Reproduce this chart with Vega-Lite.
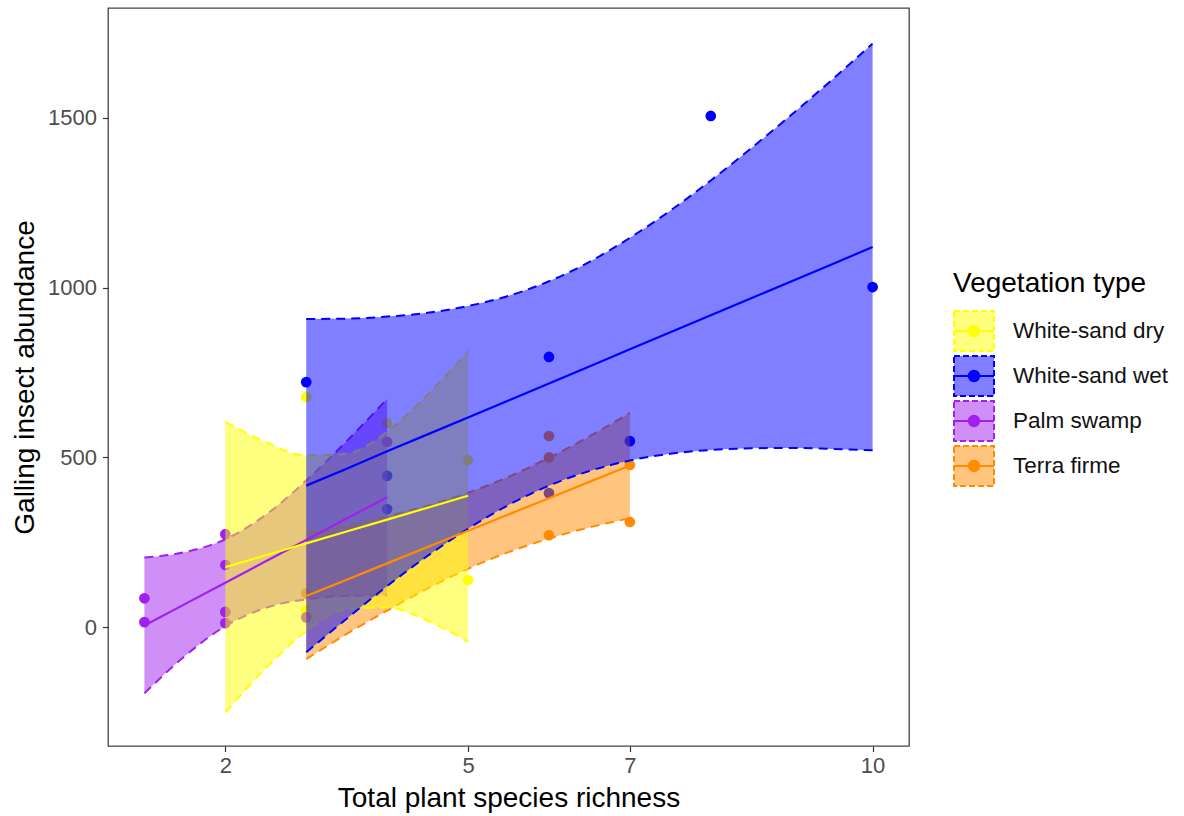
{
  "$schema": "https://vega.github.io/schema/vega-lite/v6.json",
  "width": 801,
  "height": 738,
  "autosize": {"type": "none"},
  "padding": {"left": 108, "top": 8, "right": 275, "bottom": 70},
  "background": "white",
  "config": {
    "font": "Liberation Sans",
    "view": {"stroke": "#444444", "strokeWidth": 1.3},
    "axis": {
      "grid": false,
      "domain": false,
      "tickColor": "#333333",
      "tickSize": 5.5,
      "tickWidth": 1.2,
      "labelColor": "#4D4D4D",
      "labelFontSize": 22,
      "labelFont": "Liberation Sans",
      "titleFont": "Liberation Sans",
      "titleFontSize": 28,
      "titleFontWeight": "normal",
      "titleColor": "#000000"
    }
  },
  "datasets": {
    "pts": [
      {"type": "White-sand dry", "x": 3, "y": 678},
      {"type": "White-sand dry", "x": 3, "y": 50},
      {"type": "White-sand dry", "x": 4, "y": 601},
      {"type": "White-sand dry", "x": 5, "y": 492},
      {"type": "White-sand dry", "x": 5, "y": 139},
      {"type": "White-sand wet", "x": 3, "y": 722},
      {"type": "White-sand wet", "x": 4, "y": 446},
      {"type": "White-sand wet", "x": 4, "y": 348},
      {"type": "White-sand wet", "x": 6, "y": 796},
      {"type": "White-sand wet", "x": 6, "y": 395},
      {"type": "White-sand wet", "x": 7, "y": 548},
      {"type": "White-sand wet", "x": 8, "y": 1506},
      {"type": "White-sand wet", "x": 10, "y": 1002},
      {"type": "Palm swamp", "x": 1, "y": 85},
      {"type": "Palm swamp", "x": 1, "y": 15},
      {"type": "Palm swamp", "x": 2, "y": 274},
      {"type": "Palm swamp", "x": 2, "y": 183},
      {"type": "Palm swamp", "x": 2, "y": 45},
      {"type": "Palm swamp", "x": 2, "y": 12},
      {"type": "Palm swamp", "x": 3, "y": 29},
      {"type": "Palm swamp", "x": 4, "y": 546},
      {"type": "Terra firme", "x": 3, "y": 100},
      {"type": "Terra firme", "x": 6, "y": 271},
      {"type": "Terra firme", "x": 6, "y": 500},
      {"type": "Terra firme", "x": 6, "y": 563},
      {"type": "Terra firme", "x": 7, "y": 478},
      {"type": "Terra firme", "x": 7, "y": 310}
    ],
    "band": [
      {"type": "Palm swamp", "x": 1, "lo": -195, "fit": 5, "hi": 205},
      {"type": "Palm swamp", "x": 1.5, "lo": -85, "fit": 68, "hi": 221},
      {"type": "Palm swamp", "x": 2, "lo": 3, "fit": 131, "hi": 259},
      {"type": "Palm swamp", "x": 2.5, "lo": 57, "fit": 194, "hi": 331},
      {"type": "Palm swamp", "x": 3, "lo": 82, "fit": 257, "hi": 432},
      {"type": "Palm swamp", "x": 3.5, "lo": 92, "fit": 320, "hi": 548},
      {"type": "Palm swamp", "x": 4, "lo": 94, "fit": 383, "hi": 672},
      {"type": "Terra firme", "x": 3, "lo": -94, "fit": 92, "hi": 278},
      {"type": "Terra firme", "x": 3.5, "lo": -20, "fit": 140, "hi": 300},
      {"type": "Terra firme", "x": 4, "lo": 49, "fit": 188, "hi": 327},
      {"type": "Terra firme", "x": 4.5, "lo": 114, "fit": 236, "hi": 358},
      {"type": "Terra firme", "x": 5, "lo": 172, "fit": 284, "hi": 396},
      {"type": "Terra firme", "x": 5.5, "lo": 221, "fit": 332, "hi": 443},
      {"type": "Terra firme", "x": 6, "lo": 261, "fit": 380, "hi": 499},
      {"type": "Terra firme", "x": 6.5, "lo": 294, "fit": 428, "hi": 562},
      {"type": "Terra firme", "x": 7, "lo": 321, "fit": 476, "hi": 631},
      {"type": "White-sand dry", "x": 2, "lo": -251, "fit": 177, "hi": 605},
      {"type": "White-sand dry", "x": 2.5, "lo": -121, "fit": 212, "hi": 545},
      {"type": "White-sand dry", "x": 3, "lo": -12, "fit": 247, "hi": 506},
      {"type": "White-sand dry", "x": 3.5, "lo": 53, "fit": 282, "hi": 511},
      {"type": "White-sand dry", "x": 4, "lo": 58, "fit": 317, "hi": 576},
      {"type": "White-sand dry", "x": 4.5, "lo": 19, "fit": 352, "hi": 685},
      {"type": "White-sand dry", "x": 5, "lo": -43, "fit": 387, "hi": 813},
      {"type": "White-sand wet", "x": 3, "lo": -74, "fit": 417, "hi": 908},
      {"type": "White-sand wet", "x": 3.5, "lo": 25, "fit": 467, "hi": 909},
      {"type": "White-sand wet", "x": 4, "lo": 121, "fit": 518, "hi": 915},
      {"type": "White-sand wet", "x": 4.5, "lo": 210, "fit": 568, "hi": 926},
      {"type": "White-sand wet", "x": 5, "lo": 290, "fit": 618, "hi": 946},
      {"type": "White-sand wet", "x": 5.5, "lo": 360, "fit": 668, "hi": 976},
      {"type": "White-sand wet", "x": 6, "lo": 417, "fit": 718, "hi": 1019},
      {"type": "White-sand wet", "x": 6.5, "lo": 460, "fit": 768, "hi": 1076},
      {"type": "White-sand wet", "x": 7, "lo": 491, "fit": 819, "hi": 1147},
      {"type": "White-sand wet", "x": 7.5, "lo": 511, "fit": 869, "hi": 1227},
      {"type": "White-sand wet", "x": 8, "lo": 522, "fit": 919, "hi": 1316},
      {"type": "White-sand wet", "x": 8.5, "lo": 527, "fit": 969, "hi": 1411},
      {"type": "White-sand wet", "x": 9, "lo": 528, "fit": 1019, "hi": 1510},
      {"type": "White-sand wet", "x": 9.5, "lo": 525, "fit": 1069, "hi": 1613},
      {"type": "White-sand wet", "x": 10, "lo": 521, "fit": 1120, "hi": 1719}
    ]
  },
  "encoding": {
    "x": {
      "field": "x",
      "type": "quantitative",
      "scale": {"domain": [0.55, 10.45], "nice": false, "zero": false},
      "axis": {"values": [2, 5, 7, 10], "title": "Total plant species richness", "labelPadding": 4, "titlePadding": 8}
    }
  },
  "layer": [
    {
      "data": {"name": "pts"},
      "mark": {"type": "circle", "size": 115, "opacity": 1},
      "encoding": {
        "y": {
          "field": "y", "type": "quantitative",
          "scale": {"domain": [-350, 1824], "nice": false, "zero": false},
          "axis": {"values": [0, 500, 1000, 1500], "format": "d", "title": "Galling insect abundance", "labelPadding": 6, "titlePadding": 8}
        },
        "color": {
          "field": "type", "type": "nominal",
          "sort": ["White-sand dry", "White-sand wet", "Palm swamp", "Terra firme"],
          "scale": {"range": ["#FFFF00", "#0000FF", "#A020F0", "#FF8C00"]},
          "legend": {
            "orient": "none", "legendX": 845, "legendY": 262, "padding": 0, "zindex": 2,
            "title": "Vegetation type", "titleFontSize": 28, "titleFontWeight": "normal", "titleOpacity": 0, "titlePadding": 12, "titleLimit": 400,
            "labelFontSize": 22.5, "labelOpacity": 0, "labelOffset": 18, "rowPadding": -3.5, "labelLimit": 400,
            "symbolType": "M-1,-1M1,1M-1,0L1,0M0.26,0A0.26,0.26,0,1,1,-0.26,0A0.26,0.26,0,1,1,0.26,0Z",
            "symbolSize": 1600, "symbolStrokeWidth": 2
          }
        }
      }
    },
    {
      "data": {"name": "band"},
      "transform": [{"filter": "datum.type === 'Palm swamp'"}],
      "mark": {"type": "area", "fillOpacity": 0.5, "interpolate": "monotone"},
      "encoding": {
        "y": {"field": "lo", "type": "quantitative", "scale": {"domain": [-350, 1824], "nice": false, "zero": false}, "axis": {"values": [0, 500, 1000, 1500], "format": "d", "title": "Galling insect abundance", "labelPadding": 6, "titlePadding": 8}},
        "y2": {"field": "hi"},
        "fill": {
          "field": "type", "type": "nominal",
          "scale": {"domain": ["White-sand dry", "White-sand wet", "Palm swamp", "Terra firme"], "range": ["#FFFF00", "#0000FF", "#A020F0", "#FF8C00"]},
          "legend": {
            "orient": "none", "legendX": 845, "legendY": 262, "padding": 0, "zindex": 1,
            "title": "Vegetation type", "titleFontSize": 28, "titleFontWeight": "normal", "titleColor": "#000000", "titlePadding": 12, "titleLimit": 400,
            "labelFontSize": 22.5, "labelColor": "#111111", "labelOffset": 18, "rowPadding": -3.5, "labelLimit": 400,
            "symbolType": "square", "symbolSize": 1600, "symbolStrokeWidth": 2, "symbolDash": [6, 3],
            "encoding": {"symbols": {"fillOpacity": {"value": 0.5}, "strokeOpacity": {"value": 1}, "opacity": {"value": 1}, "strokeDash": {"value": [6, 3]}, "strokeWidth": {"value": 2}}}
          }
        }
      }
    },
    {
      "data": {"name": "band"},
      "transform": [{"filter": "datum.type === 'Palm swamp'"}, {"fold": ["lo", "hi"], "as": ["bound", "val"]}],
      "mark": {"type": "line", "strokeWidth": 2, "strokeDash": [9, 6], "interpolate": "monotone"},
      "encoding": {
        "y": {"field": "val", "type": "quantitative", "scale": {"domain": [-350, 1824], "nice": false, "zero": false}, "axis": {"values": [0, 500, 1000, 1500], "format": "d", "title": "Galling insect abundance", "labelPadding": 6, "titlePadding": 8}},
        "detail": {"field": "bound"},
        "stroke": {"field": "type", "type": "nominal", "scale": {"domain": ["White-sand dry", "White-sand wet", "Palm swamp", "Terra firme"], "range": ["#FFFF00", "#0000FF", "#A020F0", "#FF8C00"]}}
      }
    },
    {
      "data": {"name": "band"},
      "transform": [{"filter": "datum.type === 'Terra firme'"}],
      "mark": {"type": "area", "fillOpacity": 0.5, "interpolate": "monotone"},
      "encoding": {
        "y": {"field": "lo", "type": "quantitative", "scale": {"domain": [-350, 1824], "nice": false, "zero": false}, "axis": {"values": [0, 500, 1000, 1500], "format": "d", "title": "Galling insect abundance", "labelPadding": 6, "titlePadding": 8}},
        "y2": {"field": "hi"},
        "fill": {"field": "type", "type": "nominal", "scale": {"domain": ["White-sand dry", "White-sand wet", "Palm swamp", "Terra firme"], "range": ["#FFFF00", "#0000FF", "#A020F0", "#FF8C00"]}}
      }
    },
    {
      "data": {"name": "band"},
      "transform": [{"filter": "datum.type === 'Terra firme'"}, {"fold": ["lo", "hi"], "as": ["bound", "val"]}],
      "mark": {"type": "line", "strokeWidth": 2, "strokeDash": [9, 6], "interpolate": "monotone"},
      "encoding": {
        "y": {"field": "val", "type": "quantitative", "scale": {"domain": [-350, 1824], "nice": false, "zero": false}, "axis": {"values": [0, 500, 1000, 1500], "format": "d", "title": "Galling insect abundance", "labelPadding": 6, "titlePadding": 8}},
        "detail": {"field": "bound"},
        "stroke": {"field": "type", "type": "nominal", "scale": {"domain": ["White-sand dry", "White-sand wet", "Palm swamp", "Terra firme"], "range": ["#FFFF00", "#0000FF", "#A020F0", "#FF8C00"]}}
      }
    },
    {
      "data": {"name": "band"},
      "transform": [{"filter": "datum.type === 'White-sand dry'"}],
      "mark": {"type": "area", "fillOpacity": 0.5, "interpolate": "monotone"},
      "encoding": {
        "y": {"field": "lo", "type": "quantitative", "scale": {"domain": [-350, 1824], "nice": false, "zero": false}, "axis": {"values": [0, 500, 1000, 1500], "format": "d", "title": "Galling insect abundance", "labelPadding": 6, "titlePadding": 8}},
        "y2": {"field": "hi"},
        "fill": {"field": "type", "type": "nominal", "scale": {"domain": ["White-sand dry", "White-sand wet", "Palm swamp", "Terra firme"], "range": ["#FFFF00", "#0000FF", "#A020F0", "#FF8C00"]}}
      }
    },
    {
      "data": {"name": "band"},
      "transform": [{"filter": "datum.type === 'White-sand dry'"}, {"fold": ["lo", "hi"], "as": ["bound", "val"]}],
      "mark": {"type": "line", "strokeWidth": 2, "strokeDash": [9, 6], "interpolate": "monotone"},
      "encoding": {
        "y": {"field": "val", "type": "quantitative", "scale": {"domain": [-350, 1824], "nice": false, "zero": false}, "axis": {"values": [0, 500, 1000, 1500], "format": "d", "title": "Galling insect abundance", "labelPadding": 6, "titlePadding": 8}},
        "detail": {"field": "bound"},
        "stroke": {"field": "type", "type": "nominal", "scale": {"domain": ["White-sand dry", "White-sand wet", "Palm swamp", "Terra firme"], "range": ["#FFFF00", "#0000FF", "#A020F0", "#FF8C00"]}}
      }
    },
    {
      "data": {"name": "band"},
      "transform": [{"filter": "datum.type === 'White-sand wet'"}],
      "mark": {"type": "area", "fillOpacity": 0.5, "interpolate": "monotone"},
      "encoding": {
        "y": {"field": "lo", "type": "quantitative", "scale": {"domain": [-350, 1824], "nice": false, "zero": false}, "axis": {"values": [0, 500, 1000, 1500], "format": "d", "title": "Galling insect abundance", "labelPadding": 6, "titlePadding": 8}},
        "y2": {"field": "hi"},
        "fill": {"field": "type", "type": "nominal", "scale": {"domain": ["White-sand dry", "White-sand wet", "Palm swamp", "Terra firme"], "range": ["#FFFF00", "#0000FF", "#A020F0", "#FF8C00"]}}
      }
    },
    {
      "data": {"name": "band"},
      "transform": [{"filter": "datum.type === 'White-sand wet'"}, {"fold": ["lo", "hi"], "as": ["bound", "val"]}],
      "mark": {"type": "line", "strokeWidth": 2, "strokeDash": [9, 6], "interpolate": "monotone"},
      "encoding": {
        "y": {"field": "val", "type": "quantitative", "scale": {"domain": [-350, 1824], "nice": false, "zero": false}, "axis": {"values": [0, 500, 1000, 1500], "format": "d", "title": "Galling insect abundance", "labelPadding": 6, "titlePadding": 8}},
        "detail": {"field": "bound"},
        "stroke": {"field": "type", "type": "nominal", "scale": {"domain": ["White-sand dry", "White-sand wet", "Palm swamp", "Terra firme"], "range": ["#FFFF00", "#0000FF", "#A020F0", "#FF8C00"]}}
      }
    },
    {
      "data": {"name": "band"},
      "mark": {"type": "line", "strokeWidth": 2.2},
      "encoding": {
        "y": {"field": "fit", "type": "quantitative", "scale": {"domain": [-350, 1824], "nice": false, "zero": false}, "axis": {"values": [0, 500, 1000, 1500], "format": "d", "title": "Galling insect abundance", "labelPadding": 6, "titlePadding": 8}},
        "color": {"field": "type", "type": "nominal", "sort": ["White-sand dry", "White-sand wet", "Palm swamp", "Terra firme"], "scale": {"range": ["#FFFF00", "#0000FF", "#A020F0", "#FF8C00"]}}
      }
    }
  ]
}
